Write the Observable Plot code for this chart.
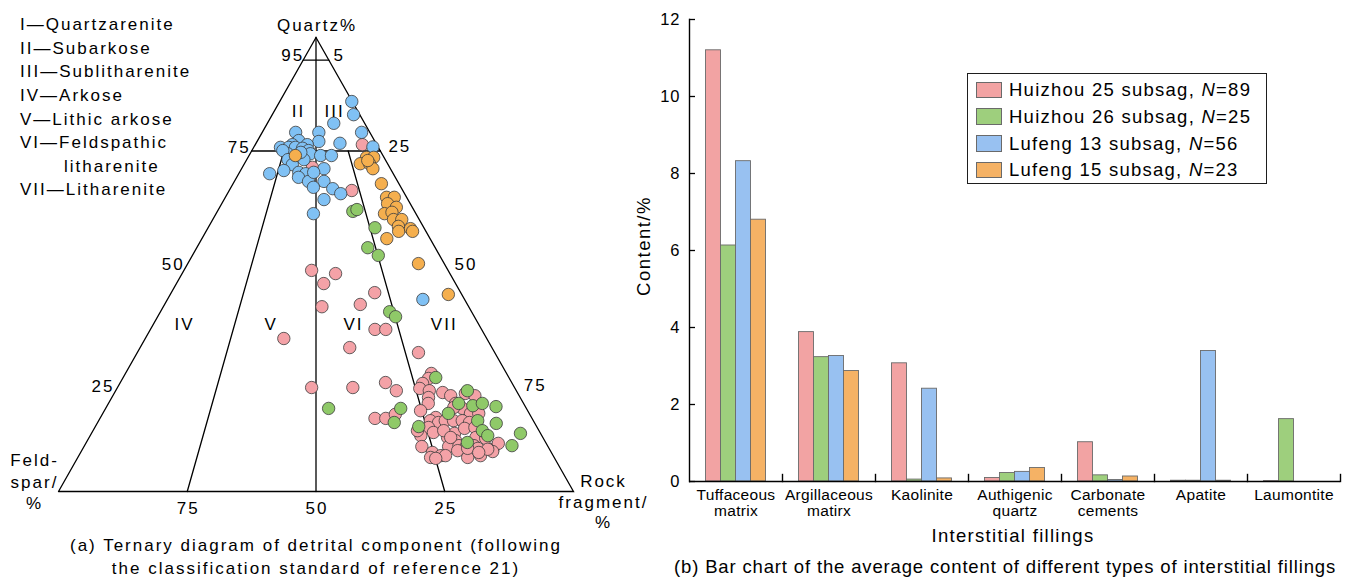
<!DOCTYPE html>
<html>
<head>
<meta charset="utf-8">
<script src="https://cdn.jsdelivr.net/npm/d3@7"></script>
<script src="https://cdn.jsdelivr.net/npm/@observablehq/plot@0.6"></script>
<style>
html,body{margin:0;padding:0;background:#fff;}
#root{position:relative;width:1345px;height:577px;overflow:hidden;font-family:"Liberation Sans",Arial,sans-serif;color:#000;background:#fff;}
.abs{position:absolute;white-space:nowrap;}
#tern{position:absolute;left:0;top:0;width:640px;height:577px;}
#bars{position:absolute;left:640px;top:0;width:705px;height:577px;}
#tern svg,#bars svg{overflow:visible;max-width:none;background:transparent;}
#tern svg text{letter-spacing:2px;}
#bars g[aria-label="fx-axis tick label"] text{letter-spacing:0.3px;}
#bars g[aria-label="y-axis tick label"] text{letter-spacing:1px;}
</style>
</head>
<body>
<div id="root">
  <div id="tern"></div>
  <div id="bars"></div>
</div>
<script>
// ================= Panel (a): ternary diagram data =================
// Each point: [Quartz %, Rock fragment %]; Feldspar % = 100 - Quartz - Rock fragment
const groupNames = ["Huizhou 25 subsag", "Huizhou 26 subsag", "Lufeng 13 subsag", "Lufeng 15 subsag"];

const hz25Pts = [
  [76.4,20.8],[66.3,23.8],[71.4,13.6],[48.7,24.8],[48.0,29.8],[45.8,28.6],[40.7,30.8],[41.2,38.0],
  [43.8,39.5],[35.7,43.6],[35.7,45.7],[33.7,26.9],[31.7,40.7],[30.6,54.6],[22.9,37.7],[22.9,45.7],
  [24.0,51.5],[22.2,54.5],[16.1,53.4],[16.1,55.5],[17.0,56.9],
  [26.0,59.4],[24.9,59.4],[23.8,58.8],[22.7,58.8],[22.2,60.9],[20.7,61.5],[19.4,62.1],[21.8,63.7],
  [21.1,65.6],[21.6,68.2],[21.1,70.3],[19.4,67.4],[17.8,61.4],[18.3,69.3],[17.2,71.4],[17.2,73.0],
  [16.3,65.1],[15.6,64.4],[15.2,66.2],[15.6,67.3],[15.6,68.9],[15.6,70.6],[15.2,72.2],[14.1,64.8],
  [13.0,66.3],[12.8,70.5],[13.9,71.9],[14.1,73.8],[12.3,64.2],[11.9,69.6],[11.2,71.5],[11.9,75.1],
  [11.7,77.1],[9.9,65.6],[9.9,70.8],[10.1,72.7],[9.7,74.2],[10.1,75.6],[9.5,76.7],[9.3,79.7],
  [10.6,80.1],[8.6,68.3],[7.9,70.3],[7.9,71.2],[9.0,73.0],[7.5,75.7],[7.9,78.0],[7.5,68.5],
  [7.3,69.6],[8.8,79.9],[18.5,67.5],[13.4,68.1],[13.4,63.0],[9.5,74.7],[9.3,78.7],[8.6,77.3],[11.9,70.2]
];
const hz26Pts = [
  [61.7,26.3],[62.1,26.9],[58.1,32.4],[53.7,33.2],[52.0,36.1],[39.6,44.5],[38.5,46.2],[18.3,43.3],
  [18.3,57.3],[15.2,57.6],[25.1,60.7],[22.2,68.3],[19.4,68.0],[18.9,71.0],[19.4,72.6],[18.7,75.6],
  [17.2,67.1],[15.6,73.6],[15.0,77.5],[14.3,62.8],[13.4,75.6],[12.3,77.2],[10.8,74.0],[10.1,83.0],[12.8,83.3]
];
const lf13Pts = [
  [85.9,14.0],[83.0,15.8],[81.1,12.9],[79.1,19.3],[75.9,23.1],[76.7,16.3],[79.1,11.0],[77.1,12.0],
  [79.1,6.5],[77.3,8.0],[76.4,10.1],[76.4,7.2],[75.8,5.2],[75.8,6.8],[75.8,8.1],[75.6,9.6],
  [75.1,11.0],[74.4,11.7],[74.4,7.3],[75.1,6.0],[74.0,13.9],[74.0,16.0],[73.1,8.0],[72.0,9.4],
  [73.1,11.1],[70.0,6.0],[70.7,8.4],[70.3,11.5],[70.0,13.0],[69.2,12.0],[68.3,14.4],[71.1,16.0],
  [70.3,14.4],[68.3,17.4],[67.0,16.0],[66.7,19.9],[65.6,22.0],[64.3,19.4],[61.2,18.9],[42.3,49.6],[74.7,9.7]
];
const lf15Pts = [
  [73.6,23.0],[73.6,24.4],[72.2,22.5],[72.2,24.3],[71.1,25.5],[72.9,23.6],[74.0,9.0],[67.8,28.8],
  [64.8,31.3],[64.8,32.8],[63.4,32.2],[62.6,34.3],[61.2,32.7],[61.5,34.0],[59.9,35.1],[59.9,36.7],
  [58.4,36.8],[57.3,37.4],[57.9,39.4],[57.3,40.1],[55.7,35.9],[50.2,44.8],[43.4,54.0]
];
const pointColors = ["#F4A2A7", "#8FC968", "#80C1F4", "#F5AF4E"];

// Classification (Folk) boundaries as ternary [Quartz %, Rock fragment %] vertices
const boundaries = [
  [[0,0],[100,0],[0,100],[0,0]],   // triangle
  [[95,0],[95,5]],                 // Q = 95
  [[75,0],[75,25]],                // Q = 75
  [[100,0],[0,50]],                // F:R = 1:1
  [[75,6.25],[0,25]],              // F:R = 3:1
  [[75,18.75],[0,75]]              // F:R = 1:3
];
const classNumerals = ["I","II","III","IV","V","VI","VII"];
const classNames = ["Quartzarenite","Subarkose","Sublitharenite","Arkose","Lithic arkose","Feldspathic\nlitharenite","Litharenite"];
const regionLabels = [
  {label:"II", Q:83.8, R:4.5}, {label:"III", Q:83.8, R:11.5},
  {label:"IV", Q:36.8, R:5.9}, {label:"V", Q:36.8, R:22.7},
  {label:"VI", Q:36.8, R:38.7}, {label:"VII", Q:36.8, R:56.3}
];
const leftTicks = [95, 75, 50, 25];    // quartz scale (left side)
const rightTicks = [5, 25, 50, 75];    // rock-fragment scale (right side)
const bottomTicks = [75, 50, 25];      // feldspar scale (bottom)

// ================= Panel (b): bar chart data =================
const categories = ["Tuffaceous matrix","Argillaceous matirx","Kaolinite","Authigenic quartz","Carbonate cements","Apatite","Laumontite"];
const seriesN = [89, 25, 56, 23];
const hz25Vals = [11.2, 3.88, 3.07, 0.09, 1.02, 0.02, 0.01];
const hz26Vals = [6.13, 3.23, 0.05, 0.22, 0.16, 0.02, 1.62];
const lf13Vals = [8.32, 3.26, 2.41, 0.25, 0.04, 3.39, 0];
const lf15Vals = [6.80, 2.87, 0.08, 0.35, 0.13, 0.02, 0];
const barColors = ["#F2A3A3", "#9ECF7D", "#98C1F1", "#F5B265"];
const yTicks = [0, 2, 4, 6, 8, 10, 12];

// ================= Build panel (a) =================
const tx = (Q, R) => R + Q / 2;
const FONT = "Liberation Sans, Arial, sans-serif";

const segPts = boundaries.flatMap((seg, i) => seg.map(([Q, R]) => ({seg: i, x: tx(Q, R), y: Q})));
const allGroups = [hz25Pts, hz26Pts, lf13Pts, lf15Pts];
const dots = allGroups.flatMap((arr, gi) => arr.map(([Q, R]) => ({g: groupNames[gi], x: tx(Q, R), y: Q})));

const leftNudge = [[-1,-4.7],[-3,-3.8],[-4.5,0],[-10.5,9]];
const rightNudge = [[4.6,-4.7],[8,-4.5],[9.7,0.5],[14.7,8]];

const ternMarks = [
  Plot.line(segPts, {x: "x", y: "y", z: "seg", stroke: "#000", strokeWidth: 1.3, strokeLinejoin: "miter", strokeMiterlimit: 20}),
  Plot.dot(dots, {x: "x", y: "y", r: 6.2, fill: "g", stroke: "#3c3c3c", strokeWidth: 0.8}),
  ...leftTicks.map((q, i) => Plot.text([q], {x: d => tx(d, 0), y: d => d, text: d => String(d), textAnchor: "end", dx: leftNudge[i][0] + 2, dy: leftNudge[i][1], fontSize: 17})),
  ...rightTicks.map((r, i) => Plot.text([r], {x: d => tx(100 - d, d), y: d => 100 - d, text: d => String(d), textAnchor: "start", dx: rightNudge[i][0], dy: rightNudge[i][1], fontSize: 17})),
  Plot.text(bottomTicks, {x: f => tx(0, 100 - f), y: () => 0, text: d => String(d), dy: 17, dx: 1, fontSize: 17}),
  Plot.text(regionLabels, {x: d => tx(d.Q, d.R), y: "Q", text: "label", dx: 1, fontSize: 17}),
  Plot.text(["Quartz%"], {x: () => tx(100, 0), y: () => 100, text: d => d, dy: -11.5, dx: 1, fontSize: 17}),
  Plot.text(["Feld-\nspar/\n%"], {x: () => tx(0, 0), y: () => 0, text: d => d, dx: -24, dy: -10.5, fontSize: 17, lineHeight: 1.265}),
  Plot.text(["Rock\nfragment/\n%"], {x: () => tx(0, 100), y: () => 0, text: d => d, dx: 30, dy: 9.5, fontSize: 17, lineHeight: 1.22})
];

const ternPlot = Plot.plot({
  width: 640, height: 577,
  marginLeft: 58, marginRight: 67, marginTop: 37, marginBottom: 86,
  x: {domain: [0, 100], axis: null},
  y: {domain: [0, 100], axis: null},
  color: {domain: groupNames, range: pointColors},
  style: {fontFamily: FONT, background: "transparent", overflow: "visible"},
  marks: ternMarks
});
document.getElementById("tern").appendChild(ternPlot);

// ================= Build panel (b) =================
const allVals = [hz25Vals, hz26Vals, lf13Vals, lf15Vals];
const barData = [];
categories.forEach((c, i) => groupNames.forEach((s, j) => {
  const v = allVals[j][i];
  if (v > 0) barData.push({cat: c, series: s, value: v});
}));

const barPlot = Plot.plot({
  width: 705, height: 577,
  marginLeft: 45.5, marginRight: 2, marginTop: 19, marginBottom: 96,
  fx: {domain: categories, padding: 0, label: null, axis: null},
  x: {domain: groupNames, paddingInner: 0, paddingOuter: 1, axis: null},
  y: {domain: [0, 12], axis: null},
  color: {domain: groupNames, range: barColors},
  style: {fontFamily: FONT, background: "transparent", overflow: "visible"},
  marks: [
    Plot.barY(barData, {fx: "cat", x: "series", y: "value", fill: "series", stroke: "#6a6a6a", strokeWidth: 0.9}),
    Plot.ruleY([0], {stroke: "#000", strokeWidth: 1.4}),
    Plot.frame({anchor: "left", facetAnchor: "left", stroke: "#000", strokeWidth: 1.4}),
    Plot.frame({anchor: "right", insetTop: 455, stroke: "#000", strokeWidth: 1.4}),
    Plot.axisY({ticks: yTicks, tickSize: -6, tickPadding: 15, fontSize: 16.5, label: null, strokeWidth: 1.3}),
    Plot.axisFx({anchor: "bottom", tickSize: 0, tickPadding: 7, fontSize: 15.5, lineHeight: 1.02, label: null, tickFormat: d => d.replace(" ", "\n")})
  ]
});
document.getElementById("bars").appendChild(barPlot);

// ================= HTML texts (titles, legend, captions) =================
const root = document.getElementById("root");
function addDiv(html, css) {
  const d = document.createElement("div");
  d.className = "abs";
  d.innerHTML = html;
  d.style.cssText += css;
  root.appendChild(d);
  return d;
}

// Rock classification list (top-left)
const classLines = classNumerals.map((n, i) => {
  const parts = classNames[i].split("\n");
  return `${n}—${parts[0]}` + (parts[1] ? `<br><span style="padding-left:44px">${parts[1]}</span>` : "");
}).join("<br>");
addDiv(classLines, "left:20px;top:12.9px;font-size:17px;letter-spacing:2px;line-height:23.65px;");

// Caption (a)
addDiv("(a) Ternary diagram of detrital component (following<br>the classification standard of reference 21)",
  "left:0px;top:533.7px;width:632px;text-align:center;font-size:17px;letter-spacing:2px;line-height:23px;");

// Bar chart axis titles
addDiv("Content/%", "left:644px;top:246px;font-size:18.5px;letter-spacing:1.5px;line-height:1.117;transform:translate(-50%,-50%) rotate(-90deg);");
addDiv("Interstitial fillings", "left:863px;top:523.7px;width:300px;text-align:center;font-size:18.5px;letter-spacing:1.3px;line-height:23px;");

// Caption (b)
addDiv("(b) Bar chart of the average content of different types of interstitial fillings",
  "left:605px;top:555.2px;width:800px;text-align:center;font-size:18.5px;letter-spacing:0.85px;line-height:23px;");

// Legend
addDiv("", "left:967px;top:73px;width:300px;height:111px;box-sizing:border-box;border:1.5px solid #1e1e1e;");
groupNames.forEach((name, i) => {
  const cy = 90 + 26.7 * i;
  addDiv("", `left:976px;top:${cy - 8.3}px;width:26px;height:16.6px;box-sizing:border-box;border:1px solid #6a6a6a;background:${barColors[i]};`);
  addDiv(`${name}, <i>N</i>=${seriesN[i]}`, `left:1009px;top:${cy - 10.8}px;font-size:18.5px;letter-spacing:1.25px;line-height:22px;`);
});
</script>
</body>
</html>
